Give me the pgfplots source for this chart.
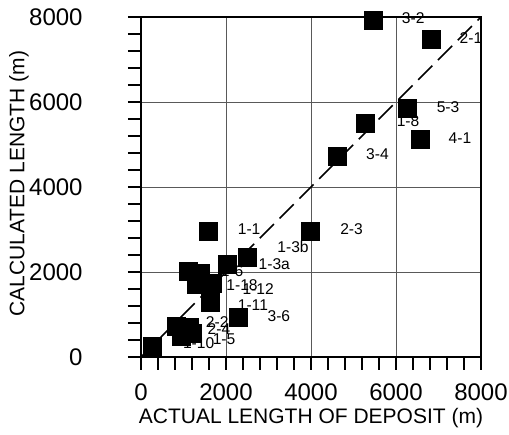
\documentclass[border=0pt]{standalone}
\usepackage{fontspec}
\setmainfont{Liberation Sans}
\usepackage{pgfplots}
\pgfplotsset{compat=1.18}
\begin{document}
\begin{tikzpicture}
\begin{axis}[
  scale only axis, width=170pt, height=170pt,
  xmin=0, xmax=8000, ymin=0, ymax=8000,
  xtick={0,2000,4000,6000,8000}, ytick={0,2000,4000,6000,8000},
  minor tick num=4,
  tick align=outside, major tick length=6.5pt, minor tick length=6.5pt,
  xtick pos=left, ytick pos=left,
  tick style={black, line width=0.6pt},
  grid=major, major grid style={black!65, line width=0.4pt},
  scaled ticks=false,
  /pgf/number format/assume math mode=true,
  /pgf/number format/set thousands separator={},
  ticklabel style={font=\fontsize{12}{13}\selectfont, inner sep=0pt},
  yticklabel style={xshift=-22.5pt},
  xticklabel style={yshift=-6.5pt},
  xlabel={ACTUAL LENGTH OF DEPOSIT (m)},
  ylabel={CALCULATED LENGTH (m)},
  xlabel style={font=\fontsize{10.5}{12}\selectfont, at={(axis description cs:0.5,0)}, anchor=north, yshift=-25.5pt, inner sep=0pt},
  ylabel style={font=\fontsize{10.5}{12}\selectfont, at={(axis description cs:-0.359,0.51)}, anchor=center, inner sep=0pt},
  axis line style={black, line width=0.6pt},
  clip=false,
]
\addplot[black, line width=0.8pt, dash pattern=on 10pt off 4pt] coordinates {(0,0) (8000,8000)};
% labels
\begin{scope}[every node/.style={font=\fontsize{7.8}{9}\selectfont, anchor=west, inner sep=0pt}]
\node at (axis cs:6130,7980) {3-2};
\node at (axis cs:7490,7500) {2-1};
\node at (axis cs:6950,5890) {5-3};
\node at (axis cs:6010,5540) {1-8};
\node at (axis cs:7230,5160) {4-1};
\node at (axis cs:5290,4780) {3-4};
\node at (axis cs:2270,3010) {1-1};
\node at (axis cs:4680,3010) {2-3};
\node at (axis cs:3200,2580) {1-3b};
\node at (axis cs:2760,2180) {1-3a};
\node at (axis cs:1870,2010) {1-6};
\node at (axis cs:2000,1700) {1-18};
\node at (axis cs:2380,1600) {1-12};
\node at (axis cs:2270,1230) {1-11};
\node at (axis cs:2970,970) {3-6};
\node at (axis cs:1520,830) {2-2};
\node at (axis cs:1560,660) {2-4};
\node at (axis cs:1680,430) {1-5};
\node at (axis cs:980,330) {1-10};
\end{scope}
\addplot[only marks, mark=square*, mark size=4.5pt, mark options={fill=black, draw=black}] coordinates {
(5470,7930) (6830,7480) (6270,5850) (6570,5110) (5290,5490) (4610,4730)
(1590,2960) (3980,2960) (2500,2340) (2040,2180)
(1120,2010) (1400,1960) (1310,1700) (1680,1730) (1640,1280)
(2290,920)
(840,730) (1150,700) (950,480) (1200,560)
(260,260)
};
\path (axis description cs:-0.4147,-0.2294) rectangle (axis description cs:1.0824,1.05);
\end{axis}
\end{tikzpicture}
\end{document}
